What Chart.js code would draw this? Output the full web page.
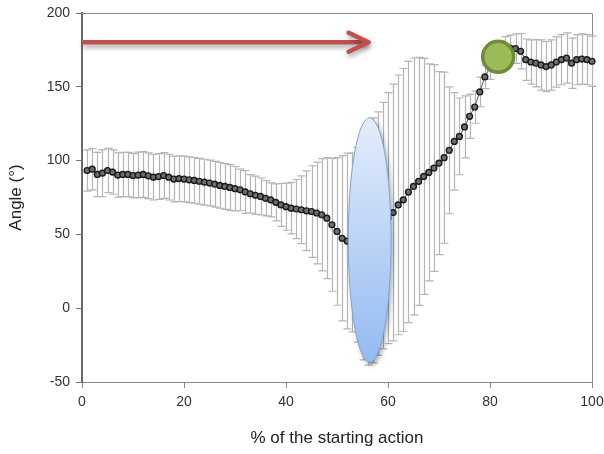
<!DOCTYPE html>
<html><head><meta charset="utf-8">
<script src="https://cdn.jsdelivr.net/npm/chart.js@4.4.1/dist/chart.umd.min.js"></script>
<style>html,body{margin:0;padding:0;background:#fff;}#wrap{width:604px;height:454px;}</style>
</head><body><div id="wrap"><canvas id="c" width="604" height="454"></canvas></div>
<script>
// ---- data ----
const percentAction = Array.from({length: 100}, (_, i) => i + 1); // 1..100 % of the starting action
const meanAngle = [
  93.3, 94.2, 90.6, 91.5, 93.3, 92.2, 90.2, 90.6, 90.6, 89.9,
  90.2, 90.6, 89.7, 88.8, 89.2, 89.9, 88.8, 87.5, 87.8, 87.5,
  87.0, 86.6, 86.0, 85.4, 84.8, 84.0, 83.2, 82.5, 81.8, 81.0,
  80.2, 78.8, 77.5, 76.5, 75.7, 74.5, 73.4, 71.7, 70.0, 68.8,
  67.8, 67.2, 66.7, 66.0, 65.5, 64.5, 63.3, 61.0, 56.5, 52.0,
  47.4, 45.5, 44.5, 43.0, 41.0, 42.0, 46.0, 50.5, 56.0, 61.0,
  64.8, 70.0, 73.4, 78.7, 82.5, 85.9, 89.3, 92.0, 95.0, 98.3,
  102.0, 107.0, 113.0, 116.4, 122.8, 130.0, 136.3, 146.5, 156.7, 163.0,
  169.0, 173.0, 175.0, 176.0, 175.9, 174.1, 168.4, 166.8, 166.0, 164.8,
  163.7, 164.8, 166.8, 168.4, 169.5, 166.0, 168.4, 168.8, 168.4, 167.3
];
const sdAngle = [
  14, 14, 15, 16, 15, 15, 15, 15, 15, 15,
  15.5, 15.5, 15.5, 15.5, 15.5, 15.5, 15.5, 15.5, 15.5, 15.5,
  15.5, 15.5, 15.5, 15.5, 15.5, 15.5, 15.5, 15.5, 15.5, 15,
  14, 14.5, 13, 13, 12.5, 12, 11.5, 12.5, 14.5, 16,
  17.5, 20, 23, 27, 31, 34.5, 38, 41, 45, 50,
  56, 59.5, 60.5, 66, 76, 80.5, 83, 82.5, 83.5, 85,
  87, 88, 89, 88.5, 87, 84, 80, 73.5, 70, 62,
  58, 43, 33, 26, 21, 15, 11, 10, 8, 8,
  8, 8, 9, 9, 10, 12, 14, 15, 16, 17,
  17, 17, 17, 17, 17, 17, 17, 17, 17, 17
];
const xTicks = [0, 20, 40, 60, 80, 100];
const yTicks = [-50, 0, 50, 100, 150, 200];
const highlightPoint = [{x: 81.6, y: 170.3}];
const arrowSpan = {xStart: 0, xEnd: 56.2, y: 180.2};
const ellipseBox = {xMin: 52.2, xMax: 60.6, yMin: -36.5, yMax: 129};

const FONT = "'Liberation Sans', Arial, sans-serif";

const errorBars = {
  id: 'errorBars',
  beforeDatasetsDraw(chart) {
    const {ctx, scales: {x, y}} = chart;
    ctx.save();
    ctx.strokeStyle = '#b4b4b4';
    ctx.lineWidth = 1.2;
    percentAction.forEach((v, i) => {
      const px = Math.round(x.getPixelForValue(v)) + 0.5;
      const t = y.getPixelForValue(meanAngle[i] + sdAngle[i]);
      const b = y.getPixelForValue(meanAngle[i] - sdAngle[i]);
      ctx.beginPath();
      ctx.moveTo(px, t); ctx.lineTo(px, b);
      ctx.moveTo(px - 4, t); ctx.lineTo(px + 4, t);
      ctx.moveTo(px - 4, b); ctx.lineTo(px + 4, b);
      ctx.stroke();
    });
    ctx.restore();
  }
};

const frame = {
  id: 'frame',
  beforeDatasetsDraw(chart) {
    const {ctx, chartArea: a} = chart;
    ctx.save();
    ctx.strokeStyle = '#8a8a8a';
    ctx.lineWidth = 1;
    ctx.beginPath();
    ctx.moveTo(a.left, Math.round(a.top) + 0.5);
    ctx.lineTo(Math.round(a.right) + 0.5, Math.round(a.top) + 0.5);
    ctx.lineTo(Math.round(a.right) + 0.5, a.bottom);
    ctx.stroke();
    ctx.restore();
  }
};

const overlays = {
  id: 'overlays',
  afterDatasetsDraw(chart) {
    const {ctx, scales: {x, y}} = chart;
    // ellipse
    const ex0 = x.getPixelForValue(ellipseBox.xMin), ex1 = x.getPixelForValue(ellipseBox.xMax);
    const ey0 = y.getPixelForValue(ellipseBox.yMax), ey1 = y.getPixelForValue(ellipseBox.yMin);
    ctx.save();
    const g = ctx.createLinearGradient(0, ey0, 0, ey1);
    g.addColorStop(0, '#e4edfb');
    g.addColorStop(1, '#93bbf2');
    ctx.shadowColor = 'rgba(0,0,0,0.35)';
    ctx.shadowBlur = 5;
    ctx.shadowOffsetX = 2;
    ctx.shadowOffsetY = 3;
    ctx.beginPath();
    ctx.ellipse((ex0 + ex1) / 2, (ey0 + ey1) / 2, (ex1 - ex0) / 2, (ey1 - ey0) / 2, 0, 0, Math.PI * 2);
    ctx.fillStyle = g;
    ctx.fill();
    ctx.shadowColor = 'transparent';
    ctx.strokeStyle = '#7fa5da';
    ctx.lineWidth = 1;
    ctx.stroke();
    ctx.restore();
    // arrow
    const ax0 = x.getPixelForValue(arrowSpan.xStart), ax1 = x.getPixelForValue(arrowSpan.xEnd);
    const ay = y.getPixelForValue(arrowSpan.y);
    ctx.save();
    ctx.shadowColor = 'rgba(0,0,0,0.35)';
    ctx.shadowBlur = 5;
    ctx.shadowOffsetX = 1;
    ctx.shadowOffsetY = 3;
    ctx.strokeStyle = '#c0504d';
    ctx.lineWidth = 4.5;
    ctx.lineJoin = 'round';
    ctx.beginPath();
    ctx.moveTo(ax0, ay);
    ctx.lineTo(ax1 - 2, ay);
    ctx.stroke();
    ctx.lineCap = 'round';
    ctx.beginPath();
    ctx.moveTo(ax1 - 20, ay - 9.5);
    ctx.lineTo(ax1, ay);
    ctx.lineTo(ax1 - 20, ay + 9.5);
    ctx.stroke();
    ctx.restore();
  }
};

new Chart(document.getElementById('c'), {
  type: 'line',
  data: {
    datasets: [
      {
        type: 'scatter',
        data: highlightPoint,
        pointRadius: 15.5,
        pointBackgroundColor: '#9bbb59',
        pointBorderColor: '#6e8a3a',
        pointBorderWidth: 3.5,
        order: 0,
        clip: false
      },
      {
        data: percentAction.map((v, i) => ({x: v, y: meanAngle[i]})),
        borderColor: '#5a5a5a',
        borderWidth: 1,
        pointRadius: 2.9,
        pointBackgroundColor: '#6e6e6e',
        pointBorderColor: '#1a1a1a',
        pointBorderWidth: 1.4,
        tension: 0,
        order: 1,
        clip: false
      }
    ]
  },
  options: {
    responsive: false,
    animation: false,
    devicePixelRatio: 1,
    layout: {autoPadding: false, padding: {top: 13, right: 12, left: 0, bottom: 0}},
    plugins: {legend: {display: false}, tooltip: {enabled: false}},
    scales: {
      x: {
        type: 'linear', min: 0, max: 100,
        afterBuildTicks: s => { s.ticks = xTicks.map(v => ({value: v})); },
        afterFit: s => { s.height = 72; s.paddingLeft = 0; s.paddingRight = 0; },
        grid: {drawOnChartArea: false, tickLength: 6, color: '#888', lineWidth: 1},
        border: {display: true, color: '#888', width: 1},
        ticks: {font: {family: FONT, size: 14}, color: '#333', padding: 6, maxRotation: 0},
        title: {display: true, text: '% of the starting action', font: {family: FONT, size: 17}, color: '#222', padding: {top: 0, bottom: 5}}
      },
      y: {
        type: 'linear', min: -50, max: 200,
        afterBuildTicks: s => { s.ticks = yTicks.map(v => ({value: v})); },
        afterFit: s => { s.width = 82; s.paddingTop = 0; s.paddingBottom = 0; },
        grid: {drawOnChartArea: false, tickLength: 6, color: '#777', lineWidth: 1},
        border: {display: true, color: '#6a6a6a', width: 2},
        ticks: {font: {family: FONT, size: 14}, color: '#333', padding: 6},
        title: {display: true, text: 'Angle (°)', font: {family: FONT, size: 17}, color: '#222', padding: {top: 6, bottom: 0}}
      }
    }
  },
  plugins: [frame, errorBars, overlays]
});
</script>
</body></html>
